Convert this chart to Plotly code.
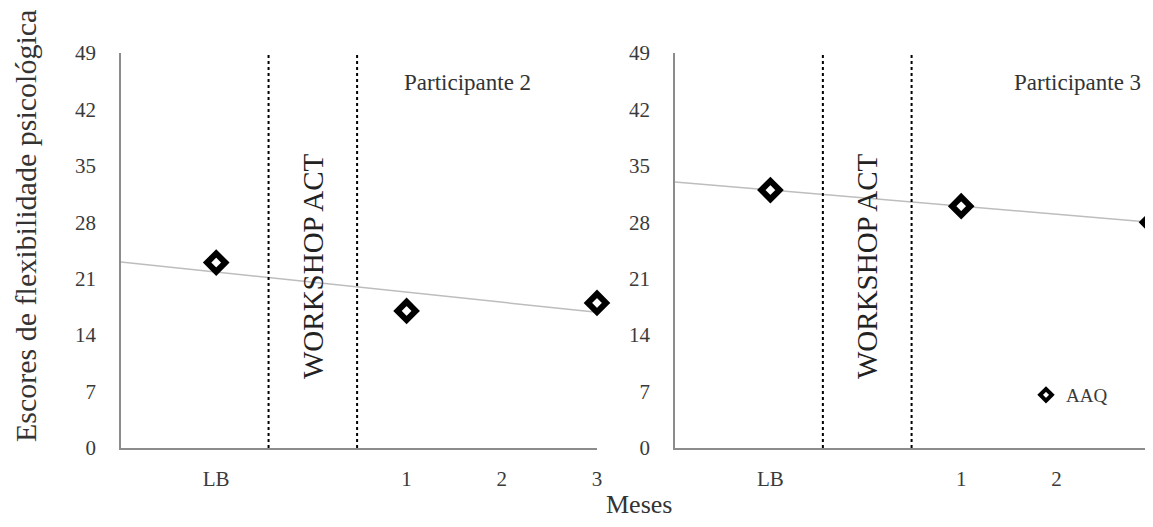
import numpy as np
import plotly.graph_objects as go
from plotly.subplots import make_subplots

# ---- data ----
categories = ["LB", "1", "2", "3"]
x_positions = [0, 2, 3, 4]          # LB, then months 1-3 after the workshop gap
p2_scores = [23, 17, None, 18]
p3_scores = [32, 30, None, 28]
y_ticks = [0, 7, 14, 21, 28, 35, 42, 49]
phase_lines = [0.55, 1.48]
panel_titles = ["Participante 2", "Participante 3"]
series_name = "AAQ"

# page body has an 8px margin: size the figure so the page does not scroll
OFF = 8
W, H = 1153 - OFF, 527 - 2 * OFF
FONT = "Liberation Serif, Times New Roman, serif"

fig = make_subplots(rows=1, cols=2)

def px_x(p):
    return (p - OFF) / W

def px_y(p):
    return (H - (p - OFF)) / H

dom1 = [px_x(121), px_x(597)]
dom2 = [px_x(675), px_x(1152)]
ydom = [px_y(448), px_y(53)]

for i, scores in enumerate([p2_scores, p3_scores]):
    col = i + 1
    xs = [x for x, v in zip(x_positions, scores) if v is not None]
    ys = [v for v in scores if v is not None]
    slope, intercept = np.polyfit(xs, ys, 1)
    xr = np.array([-1, 4])
    fig.add_trace(go.Scatter(x=xr, y=slope * xr + intercept, mode="lines",
                             line=dict(color="#bdbdbd", width=1.5),
                             showlegend=False, hoverinfo="skip", cliponaxis=False),
                  row=1, col=col)
    fig.add_trace(go.Scatter(x=xs, y=ys, mode="markers", name=series_name,
                             legendgroup=series_name,
                             marker=dict(symbol="diamond", size=14, color="white",
                                         line=dict(color="black", width=6)),
                             cliponaxis=False, showlegend=False), row=1, col=col)
    for xl in phase_lines:
        fig.add_shape(type="line", x0=xl, x1=xl, y0=0, y1=49,
                      xref=f"x{'' if col == 1 else col}", yref=f"y{'' if col == 1 else col}",
                      line=dict(color="black", width=2, dash="dot"))

# legend entry (smaller symbol, as in the original key)
fig.add_trace(go.Scatter(x=[None], y=[None], mode="markers", name=series_name,
                         legendgroup=series_name,
                         marker=dict(symbol="diamond", size=9, color="white",
                                     line=dict(color="black", width=4)),
                         showlegend=True), row=1, col=2)

axis_common = dict(showgrid=False, zeroline=False, showline=True, automargin=False,
                   linecolor="#8c8c8c", linewidth=1.5,
                   tickfont=dict(family=FONT, size=21, color="#3a3a3a"))

fig.update_xaxes(range=[-1, 4], tickmode="array", tickvals=x_positions,
                 ticktext=categories, ticks="", ticklabelstandoff=11,
                 ticklabeloverflow="allow", **axis_common)
fig.update_yaxes(range=[0, 49], tickmode="array", tickvals=y_ticks,
                 ticks="", ticklabelstandoff=19, **axis_common)

fig.update_layout(
    width=W, height=H,
    margin=dict(l=0, r=0, t=0, b=0, autoexpand=False),
    plot_bgcolor="white", paper_bgcolor="white",
    xaxis=dict(domain=dom1), xaxis2=dict(domain=dom2),
    yaxis=dict(domain=ydom), yaxis2=dict(domain=ydom),
    legend=dict(x=px_x(1026), y=px_y(395), xanchor="left", yanchor="middle",
                bgcolor="rgba(0,0,0,0)",
                font=dict(family=FONT, size=19, color="#3a3a3a")),
    font=dict(family=FONT),
)

annotations = [
    dict(text="Escores de flexibilidade psicológica", x=px_x(25), y=px_y(226),
         textangle=-90, font=dict(size=30, color="#333333")),
    dict(text="Meses", x=px_x(639), y=px_y(504), font=dict(size=26, color="#333333")),
    dict(text=panel_titles[0], x=px_x(467), y=px_y(82), font=dict(size=23, color="#333333")),
    dict(text=panel_titles[1], x=px_x(1077), y=px_y(82), font=dict(size=23, color="#333333")),
    dict(text="WORKSHOP ACT", x=px_x(313), y=px_y(266), textangle=-90,
         font=dict(size=29, color="#222222")),
    dict(text="WORKSHOP ACT", x=px_x(867), y=px_y(266), textangle=-90,
         font=dict(size=29, color="#222222")),
]
for a in annotations:
    a.update(xref="paper", yref="paper", showarrow=False, xanchor="center", yanchor="middle")
    a["font"]["family"] = FONT
    fig.add_annotation(**a)

fig.write_html("out.html")
